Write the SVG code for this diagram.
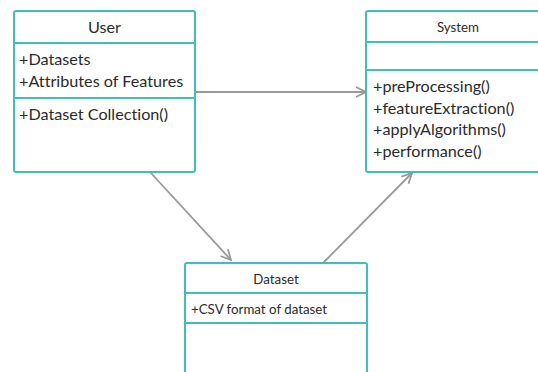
<svg xmlns="http://www.w3.org/2000/svg" width="538" height="372" viewBox="0 0 538 372">
  <style>
    .box { fill: #ffffff; stroke: #3fbfb7; stroke-width: 2; }
    .sep { stroke: #3fbfb7; stroke-width: 2; }
    text { font-family: Lato, "Liberation Sans", sans-serif; fill: #2a2a2a; font-variant-ligatures: none; }
    .big { font-size: 16.2px; }
    .small { font-size: 13.3px; }
    .title { text-anchor: middle; }
    .conn { stroke: #999999; stroke-width: 1.8; fill: none; }
  </style>
  <defs>
    <marker id="open" viewBox="0 0 12 12" refX="11" refY="6" markerWidth="12" markerHeight="12" markerUnits="userSpaceOnUse" orient="auto">
      <path d="M1,1 L11,6 L1,11" fill="none" stroke="#999999" stroke-width="1.8"/>
    </marker>
  </defs>
  <rect width="538" height="372" fill="#ffffff"/>

  <g id="connectors">
    <line class="conn" x1="195" y1="92" x2="366" y2="92" marker-end="url(#open)"/>
    <line class="conn" x1="150" y1="172" x2="231" y2="260" marker-end="url(#open)"/>
    <line class="conn" x1="323" y1="263" x2="412" y2="173" marker-end="url(#open)"/>
  </g>

  <g id="user">
    <rect class="box" x="14" y="11" width="181" height="161" rx="2"/>
    <line class="sep" x1="14" y1="43" x2="195" y2="43"/>
    <line class="sep" x1="14" y1="98" x2="195" y2="98"/>
    <text class="big title" x="104.5" y="33">User</text>
    <text class="big" x="19" y="65">+Datasets</text>
    <text class="big" x="19" y="87">+Attributes of Features</text>
    <text class="big" x="19" y="120">+Dataset Collection()</text>
  </g>

  <g id="system">
    <rect class="box" x="366" y="11" width="184" height="161" rx="2"/>
    <line class="sep" x1="366" y1="42" x2="550" y2="42"/>
    <line class="sep" x1="366" y1="70" x2="550" y2="70"/>
    <text class="small title" x="458" y="32">System</text>
    <text class="big" x="373" y="92">+preProcessing()</text>
    <text class="big" x="373" y="113.5">+featureExtraction()</text>
    <text class="big" x="373" y="135">+applyAlgorithms()</text>
    <text class="big" x="373" y="157">+performance()</text>
  </g>

  <g id="dataset">
    <rect class="box" x="185" y="263" width="182" height="120" rx="2"/>
    <line class="sep" x1="185" y1="293" x2="367" y2="293"/>
    <line class="sep" x1="185" y1="323" x2="367" y2="323"/>
    <text class="small title" x="276" y="284">Dataset</text>
    <text class="small" x="191" y="314">+CSV format of dataset</text>
  </g>
</svg>
